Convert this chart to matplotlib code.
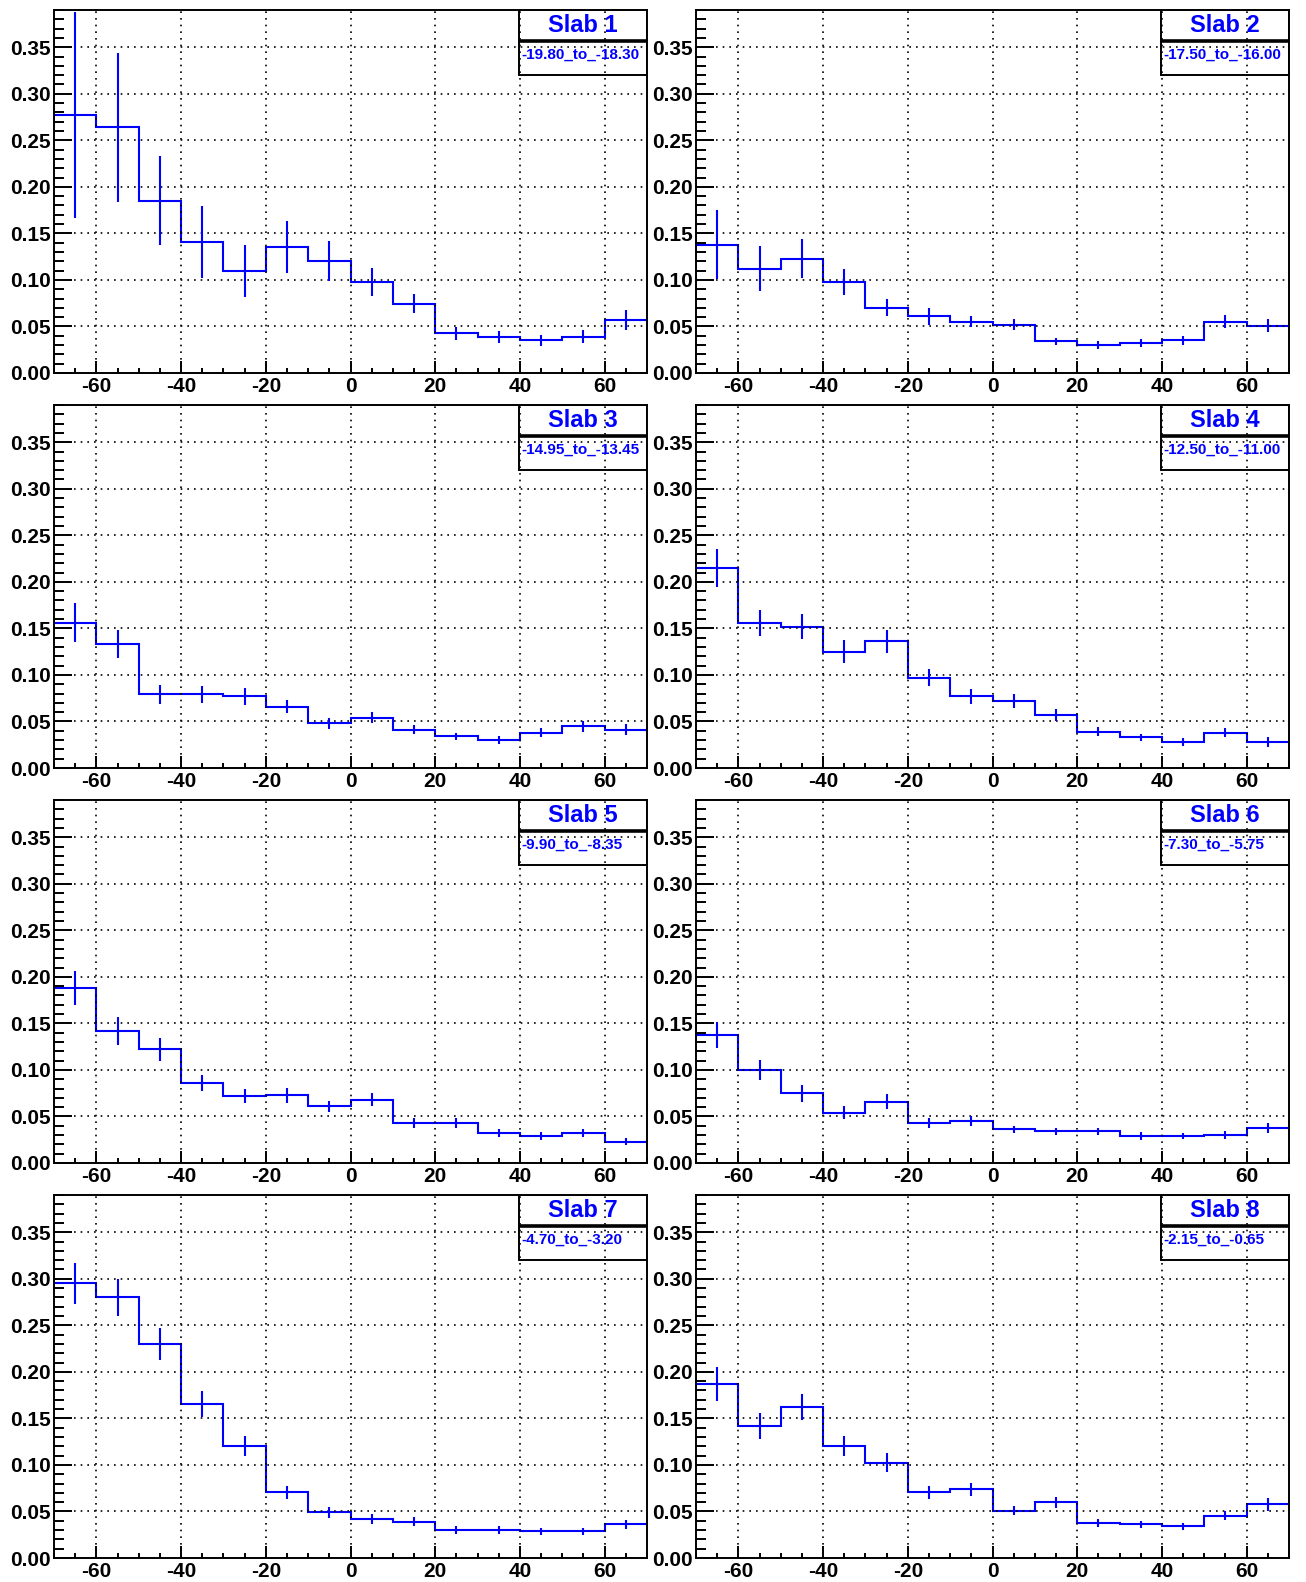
import matplotlib
matplotlib.use("Agg")
import matplotlib.pyplot as plt
from matplotlib.patches import Rectangle
from matplotlib.ticker import MultipleLocator, FormatStrFormatter
import numpy as np

# bins: 14 bins of width 10 from -70 to 70
bin_edges = [-70, -60, -50, -40, -30, -20, -10, 0, 10, 20, 30, 40, 50, 60, 70]

slab_names = ["Slab 1", "Slab 2", "Slab 3", "Slab 4", "Slab 5", "Slab 6", "Slab 7", "Slab 8"]
slab_ranges = ["-19.80_to_-18.30", "-17.50_to_-16.00", "-14.95_to_-13.45", "-12.50_to_-11.00",
               "-9.90_to_-8.35", "-7.30_to_-5.75", "-4.70_to_-3.20", "-2.15_to_-0.65"]

vals_1 = [0.277, 0.264, 0.185, 0.141, 0.110, 0.135, 0.120, 0.098, 0.0745, 0.0425, 0.039, 0.035, 0.039, 0.057]
errs_1 = [0.111, 0.080, 0.048, 0.0385, 0.028, 0.028, 0.0215, 0.015, 0.0105, 0.007, 0.0065, 0.006, 0.007, 0.0105]

vals_2 = [0.138, 0.112, 0.123, 0.098, 0.070, 0.061, 0.055, 0.052, 0.034, 0.030, 0.032, 0.035, 0.055, 0.051]
errs_2 = [0.037, 0.024, 0.021, 0.014, 0.009, 0.009, 0.006, 0.006, 0.004, 0.004, 0.004, 0.005, 0.007, 0.007]

vals_3 = [0.156, 0.133, 0.079, 0.079, 0.077, 0.066, 0.048, 0.054, 0.041, 0.034, 0.030, 0.038, 0.045, 0.041]
errs_3 = [0.021, 0.015, 0.010, 0.009, 0.009, 0.007, 0.006, 0.006, 0.005, 0.004, 0.004, 0.005, 0.006, 0.006]

vals_4 = [0.215, 0.156, 0.152, 0.125, 0.136, 0.097, 0.077, 0.072, 0.057, 0.039, 0.033, 0.028, 0.038, 0.028]
errs_4 = [0.020, 0.014, 0.013, 0.012, 0.012, 0.009, 0.008, 0.007, 0.006, 0.005, 0.004, 0.004, 0.005, 0.005]

vals_5 = [0.188, 0.142, 0.122, 0.086, 0.072, 0.073, 0.061, 0.068, 0.043, 0.043, 0.032, 0.029, 0.032, 0.023]
errs_5 = [0.018, 0.015, 0.012, 0.009, 0.008, 0.008, 0.006, 0.007, 0.005, 0.005, 0.004, 0.004, 0.004, 0.004]

vals_6 = [0.138, 0.100, 0.075, 0.054, 0.066, 0.043, 0.045, 0.036, 0.034, 0.034, 0.029, 0.029, 0.030, 0.0375]
errs_6 = [0.014, 0.011, 0.009, 0.007, 0.008, 0.005, 0.005, 0.004, 0.004, 0.004, 0.004, 0.003, 0.004, 0.005]

vals_7 = [0.295, 0.280, 0.230, 0.165, 0.1205, 0.0705, 0.049, 0.042, 0.039, 0.030, 0.030, 0.0285, 0.0285, 0.036]
errs_7 = [0.022, 0.020, 0.017, 0.014, 0.011, 0.007, 0.006, 0.005, 0.005, 0.004, 0.004, 0.004, 0.004, 0.005]

vals_8 = [0.187, 0.142, 0.162, 0.1205, 0.1025, 0.0705, 0.074, 0.051, 0.060, 0.0375, 0.036, 0.034, 0.0455, 0.058]
errs_8 = [0.018, 0.014, 0.014, 0.011, 0.010, 0.007, 0.007, 0.005, 0.006, 0.004, 0.004, 0.004, 0.005, 0.007]

all_vals = [vals_1, vals_2, vals_3, vals_4, vals_5, vals_6, vals_7, vals_8]
all_errs = [errs_1, errs_2, errs_3, errs_4, errs_5, errs_6, errs_7, errs_8]

blue = "#0000ff"
plt.rcParams["font.family"] = ["Liberation Sans", "DejaVu Sans"]
plt.rcParams["axes.unicode_minus"] = False

fig = plt.figure(figsize=(13.06, 15.82), dpi=100)

col_x = [54 / 1306, 696 / 1306]
col_w = 593 / 1306
row_y = [(1582 - 373) / 1582, (1582 - 768) / 1582, (1582 - 1163) / 1582, (1582 - 1558) / 1582]
row_h = 363 / 1582

edges = np.array(bin_edges)
centers = (edges[:-1] + edges[1:]) / 2

for i in range(8):
    r, c = divmod(i, 2)
    ax = fig.add_axes([col_x[c], row_y[r], col_w, row_h])

    ax.stairs(all_vals[i], edges, baseline=None, color=blue, linewidth=1.5)
    ax.errorbar(centers, all_vals[i], yerr=all_errs[i], fmt="none", ecolor=blue,
                elinewidth=1.5, capsize=0)

    ax.set_xlim(-70, 70)
    ax.set_ylim(0, 0.39)
    ax.xaxis.set_major_locator(MultipleLocator(20))
    ax.xaxis.set_minor_locator(MultipleLocator(5))
    ax.yaxis.set_major_locator(MultipleLocator(0.05))
    ax.yaxis.set_minor_locator(MultipleLocator(0.01))
    ax.yaxis.set_major_formatter(FormatStrFormatter("%.2f"))

    ax.tick_params(axis="both", which="both", direction="in", top=False, right=False,
                   width=1.4, labelsize=15)
    ax.tick_params(axis="y", which="major", length=13, pad=2)
    ax.tick_params(axis="y", which="minor", length=7.5)
    ax.tick_params(axis="x", which="major", length=8.5, pad=3)
    ax.tick_params(axis="x", which="minor", length=3.6)
    for lab in ax.get_xticklabels() + ax.get_yticklabels():
        lab.set_fontweight("bold")

    ax.grid(True, which="major", color="black", linestyle=(0, (1, 3)), linewidth=1.2)
    for sp in ax.spines.values():
        sp.set_linewidth(1.4)

    # legend-like box in the top right corner
    bx0 = 0.784
    ax.add_patch(Rectangle((bx0, 0.821), 1 - bx0, 1 - 0.821, transform=ax.transAxes,
                           fill=False, edgecolor="black", linewidth=1.4, clip_on=True))
    ax.plot([bx0, 1.0], [0.9146, 0.9146], transform=ax.transAxes, color="black",
            linewidth=2.6, solid_capstyle="butt", clip_on=True)
    ax.text((bx0 + 1) / 2, 0.958, slab_names[i], transform=ax.transAxes, color=blue,
            fontsize=17, fontweight="bold", ha="center", va="center")
    ax.text(bx0 + 0.004, 0.876, slab_ranges[i], transform=ax.transAxes, color=blue,
            fontsize=11, fontweight="bold", ha="left", va="center")

fig.savefig("out.png", dpi=100)
